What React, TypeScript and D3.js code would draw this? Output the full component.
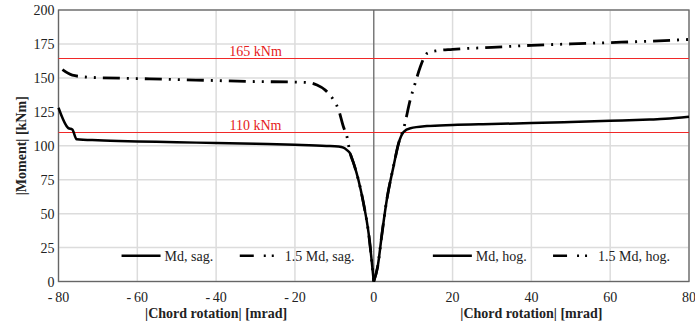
import { useEffect, useRef } from 'react';
import * as d3 from 'd3';

// sagging side (negative rotation)
const sagX = [-80, -77.5, -76.5, -75.4, -70, -60, -50, -40, -30, -20, -12, -9, -7.7, -6.8, -6, -5.1, -3.9, -2.6, -1.3, 0];
const sagMd = [128, 113, 112, 104.8, 104, 103.2, 102.6, 102, 101.4, 100.7, 99.9, 99.4, 98.6, 96.8, 94.4, 87, 75, 57.6, 35.5, 0];

const sag15X = [-79, -76.5, -72, -60, -50, -40, -30, -20, -16.5, -14.4, -12.3, -10.2, -8.9, -7.7, -6.8, -6, -5.1, -3.9, -2.6, -1.3, 0];
const sag15Md = [156, 152, 150.4, 149.5, 148.8, 148, 147.3, 146.9, 146.5, 144.7, 141, 133.7, 126.3, 114, 106.7, 94.5, 87, 75, 57.6, 35.5, 0];

// hogging side (positive rotation)
const hogX = [0, 1, 2.1, 3.3, 5, 6.3, 7.6, 9.3, 13.5, 20, 30, 40, 50, 60, 70, 74, 80];
const hogMd = [0, 11, 35.5, 60, 84.6, 101.8, 110.3, 112.9, 114.5, 115.3, 116, 116.7, 117.5, 118.4, 119.3, 119.8, 121.3];

const hog15X = [0, 1, 2.1, 3.3, 5, 6.3, 7.6, 9.25, 10.5, 11.8, 13.5, 16, 20, 30, 40, 50, 60, 70, 80];
const hog15Md = [0, 11, 35.5, 60, 84.6, 101.8, 112.8, 133.7, 146, 158, 168, 170, 171, 172.5, 174, 175, 176, 177, 178.3];

const limits = [165, 110];
const limitLabels = ['165 kNm', '110 kNm'];

const xTicks = [-80, -60, -40, -20, 0, 20, 40, 60, 80];
const yTicks = [0, 25, 50, 75, 100, 125, 150, 175, 200];

const legendNames = ['Md, sag.', '1.5 Md, sag.', 'Md, hog.', '1.5 Md, hog.'];
const legendStart = [-64, -34, 15, 45.5];

const DASH = '17,7,2,7,2,7';
const FONT = 'Liberation Serif';

export default function App() {
  const ref = useRef<SVGSVGElement>(null);

  useEffect(() => {
    if (!ref.current) return;
    const svg = d3.select(ref.current);
    svg.selectAll('*').remove();

    const W = 695, H = 325;
    const m = { top: 10, right: 6, bottom: 43.5, left: 58.5 };
    const x = d3.scaleLinear().domain([-80, 80]).range([m.left, W - m.right]);
    const y = d3.scaleLinear().domain([0, 200]).range([H - m.bottom, m.top]);

    svg.attr('width', W).attr('height', H).style('display', 'block');

    // grid
    const g = svg.append('g').attr('font-family', FONT);
    g.selectAll('.hg').data(yTicks).enter().append('line')
      .attr('x1', x(-80)).attr('x2', x(80))
      .attr('y1', d => y(d)).attr('y2', d => y(d))
      .attr('stroke', '#dcdcdc').attr('stroke-width', 1.5);
    g.selectAll('.vg').data(xTicks.filter(d => d !== 0)).enter().append('line')
      .attr('x1', d => x(d)).attr('x2', d => x(d))
      .attr('y1', y(0)).attr('y2', y(200))
      .attr('stroke', '#dcdcdc').attr('stroke-width', 1.5);

    // zero line
    g.append('line')
      .attr('x1', x(0)).attr('x2', x(0)).attr('y1', y(0)).attr('y2', y(200))
      .attr('stroke', '#7a7a7a').attr('stroke-width', 1.5);

    // frame
    g.append('rect')
      .attr('x', x(-80)).attr('y', y(200))
      .attr('width', x(80) - x(-80)).attr('height', y(0) - y(200))
      .attr('fill', 'none').attr('stroke', '#666').attr('stroke-width', 1.3);

    // limit lines
    limits.forEach((v, i) => {
      const ly = Math.round(y(v)) + 0.5;
      g.append('line')
        .attr('x1', x(-80)).attr('x2', x(80)).attr('y1', ly).attr('y2', ly)
        .attr('stroke', '#f02828').attr('stroke-width', 1.2);
      g.append('text')
        .attr('x', x(-30)).attr('y', ly - 3)
        .attr('text-anchor', 'middle').attr('fill', '#e52020')
        .attr('font-size', 14)
        .text(limitLabels[i]);
    });

    const line = d3.line<[number, number]>()
      .x(d => x(d[0]))
      .y(d => y(d[1]))
      .curve(d3.curveMonotoneX);

    const series = [
      { xs: sagX, ys: sagMd, dash: null },
      { xs: sag15X, ys: sag15Md, dash: DASH },
      { xs: hogX, ys: hogMd, dash: null },
      { xs: hog15X, ys: hog15Md, dash: DASH },
    ];
    series.forEach(s => {
      const pts = s.xs.map((v, i) => [v, s.ys[i]] as [number, number]);
      g.append('path')
        .datum(pts)
        .attr('fill', 'none')
        .attr('stroke', '#000')
        .attr('stroke-width', s.dash ? 2.8 : 2.5)
        .attr('stroke-dasharray', s.dash)
        .attr('d', line);
    });

    // legend
    const ly = y(19);
    legendNames.forEach((name, i) => {
      const x0 = x(legendStart[i]);
      const dashed = i % 2 === 1;
      const len = dashed ? 36 : 39;
      g.append('line')
        .attr('x1', x0).attr('x2', x0 + len).attr('y1', ly).attr('y2', ly)
        .attr('stroke', '#000').attr('stroke-width', 2.6)
        .attr('stroke-dasharray', dashed ? '14,10,2,6,2,20' : null);
      g.append('text')
        .attr('x', x0 + len + (dashed ? 9 : 4)).attr('y', ly + 5)
        .attr('font-size', 14).attr('fill', '#222')
        .text(name);
    });

    // axis labels
    g.selectAll('.yl').data(yTicks).enter().append('text')
      .attr('x', m.left - 4).attr('y', d => y(d) + 5)
      .attr('text-anchor', 'end').attr('font-size', 14).attr('fill', '#222')
      .text(d => d);
    g.selectAll('.xl').data(xTicks).enter().append('text')
      .attr('x', d => x(d)).attr('y', 302)
      .attr('text-anchor', 'middle').attr('font-size', 14).attr('fill', '#222')
      .text(d => (d < 0 ? '-\u2009' + Math.abs(d) : String(d)));

    [-40, 40].forEach(c => {
      g.append('text')
        .attr('x', x(c)).attr('y', 318)
        .attr('text-anchor', 'middle').attr('font-size', 14).attr('font-weight', 'bold')
        .attr('fill', '#222')
        .text('|Chord rotation| [mrad]');
    });

    g.append('text')
      .attr('transform', `translate(26,${(y(0) + y(200)) / 2}) rotate(-90)`)
      .attr('text-anchor', 'middle').attr('font-size', 14).attr('font-weight', 'bold')
      .attr('fill', '#222')
      .text('|Moment| [kNm]');
  }, []);

  return <svg ref={ref} style={{ position: 'absolute', left: 0, top: 0 }} />;
}
